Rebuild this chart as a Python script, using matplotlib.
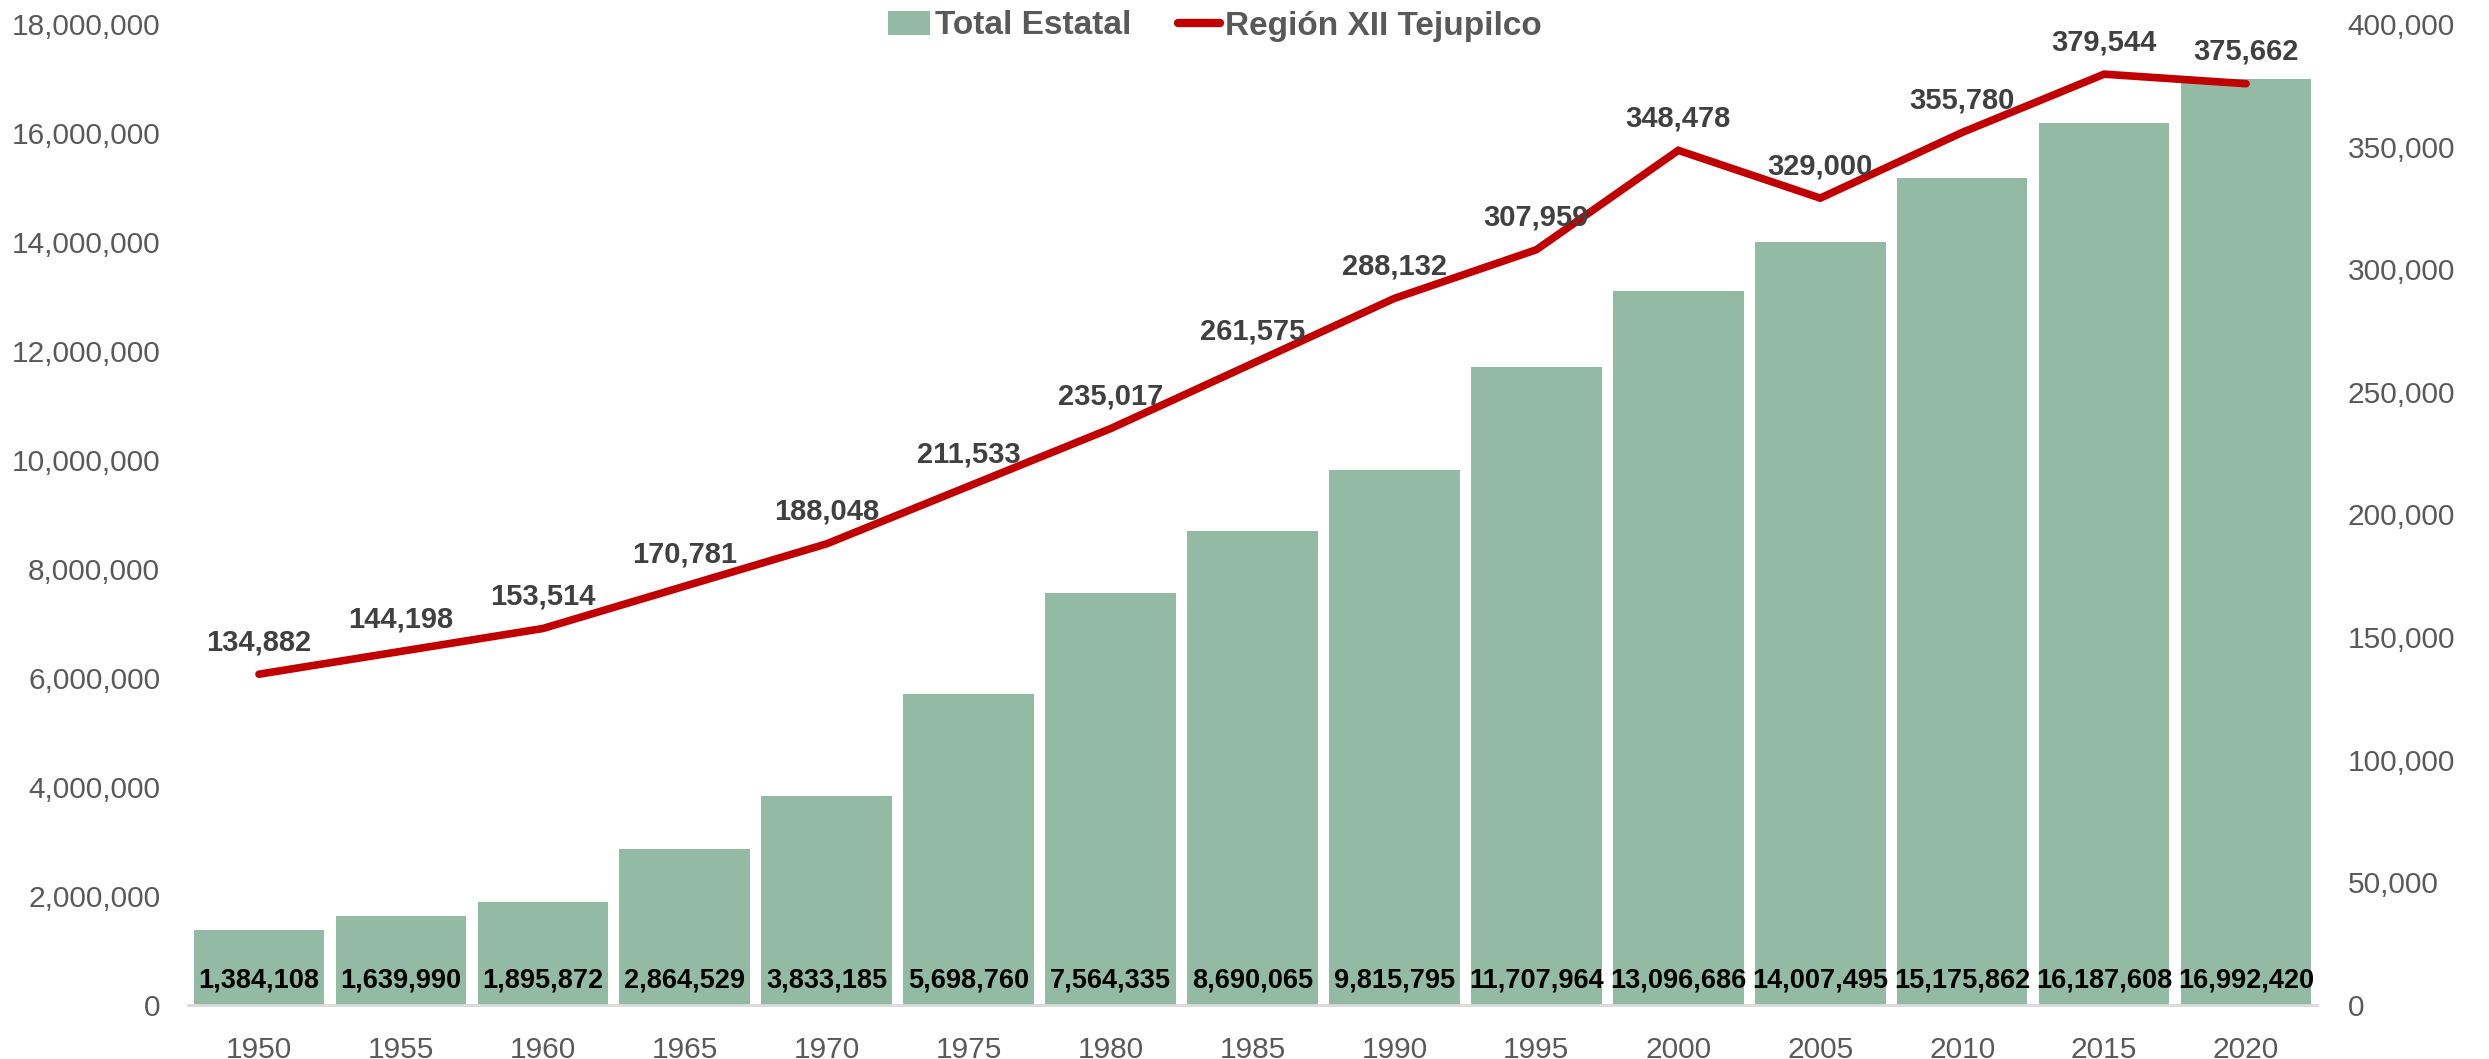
import matplotlib
matplotlib.use("Agg")
import matplotlib.pyplot as plt
import numpy as np
from matplotlib.patches import Patch
from matplotlib.lines import Line2D
from matplotlib.ticker import FuncFormatter, MultipleLocator

years = ["1950", "1955", "1960", "1965", "1970", "1975", "1980", "1985",
         "1990", "1995", "2000", "2005", "2010", "2015", "2020"]
total_estatal = [1384108, 1639990, 1895872, 2864529, 3833185, 5698760, 7564335,
                 8690065, 9815795, 11707964, 13096686, 14007495, 15175862,
                 16187608, 16992420]
region_xii = [134882, 144198, 153514, 170781, 188048, 211533, 235017, 261575,
              288132, 307959, 348478, 329000, 355780, 379544, 375662]

plt.rcParams['font.family'] = ['Liberation Sans', 'DejaVu Sans']

W, H = 2489, 1059
fig = plt.figure(figsize=(W / 100, H / 100), dpi=100)
left, right, bottom, top = 188, 2317, 1005, 24
ax = fig.add_axes([left / W, 1 - bottom / H, (right - left) / W, (bottom - top) / H])

x = np.arange(len(years))
bar_color = '#93BAA5'
line_color = '#C00000'
tick_color = '#595959'

ax.bar(x, total_estatal, width=0.92, color=bar_color, zorder=2)
ax.set_xlim(-0.5, len(years) - 0.5)
ax.set_ylim(0, 18000000)
ax.yaxis.set_major_locator(MultipleLocator(2000000))
ax.yaxis.set_major_formatter(FuncFormatter(lambda v, p: f"{int(v):,}"))
ax.set_xticks(x)
ax.set_xticklabels(years)
for s in ['top', 'right', 'left']:
    ax.spines[s].set_visible(False)
ax.spines['bottom'].set_color('#D9D9D9')
ax.spines['bottom'].set_linewidth(2)
ax.tick_params(axis='both', length=0, labelsize=21.5, colors=tick_color)
ax.tick_params(axis='y', pad=20)
ax.tick_params(axis='x', pad=22)

for xi, v in zip(x, total_estatal):
    ax.annotate(f"{v:,}", xy=(xi, 0), xytext=(0, 24), textcoords='offset pixels',
                ha='center', va='center', fontsize=19.5, fontweight='bold',
                color='black', zorder=3)

ax2 = ax.twinx()
ax2.plot(x, region_xii, color=line_color, lw=5.5, solid_capstyle='round',
         solid_joinstyle='miter', zorder=4)
ax2.set_ylim(0, 400000)
ax2.yaxis.set_major_locator(MultipleLocator(50000))
ax2.yaxis.set_major_formatter(FuncFormatter(lambda v, p: f"{int(v):,}"))
for s in ['top', 'right', 'left', 'bottom']:
    ax2.spines[s].set_visible(False)
ax2.tick_params(axis='y', length=0, labelsize=21.5, colors=tick_color, pad=22)

for xi, v in zip(x, region_xii):
    ax2.annotate(f"{v:,}", xy=(xi, v), xytext=(0, 32), textcoords='offset pixels',
                 ha='center', va='center', fontsize=21, fontweight='bold',
                 color='#404040', zorder=5)

handles = [Patch(facecolor=bar_color, edgecolor='none'),
           Line2D([0], [0], color=line_color, lw=6, solid_capstyle='round')]
fig.legend(handles, ["Total Estatal", "Región XII Tejupilco"], loc='center',
           bbox_to_anchor=(1215 / W, 1 - 26 / H), ncol=2, frameon=False,
           prop={'weight': 'bold', 'size': 24}, labelcolor='#595959',
           handlelength=1.25, handletextpad=0.15, columnspacing=1.4,
           handleheight=0.7)

fig.savefig("out.png", dpi=100)
